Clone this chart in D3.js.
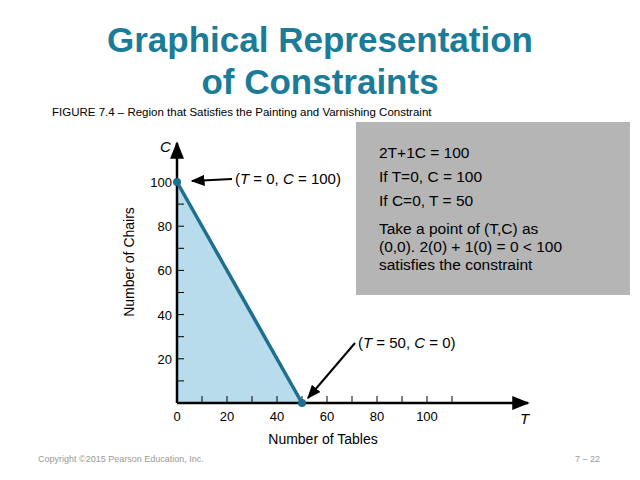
<!doctype html>
<html>
<head>
<meta charset="utf-8">
<script src="https://cdnjs.cloudflare.com/ajax/libs/d3/7.8.5/d3.min.js"></script>
<style>
  body { margin: 0; background: #fff; }
  svg { font-family: Arial, "Liberation Sans", sans-serif; display: block; }
</style>
</head>
<body>
<div id="chart"></div>
<script>
// constraint 2T + 1C <= 100
const boundaryT = [0, 50];
const boundaryC = [100, 0];
const tickLabelsX = [0, 20, 40, 60, 80, 100];
const tickLabelsY = [20, 40, 60, 80, 100];
const minorX = d3.range(10, 120, 10);
const minorY = d3.range(10, 100, 10);
const noteLines = ["2T+1C = 100", "If T=0, C = 100", "If C=0, T = 50",
  "Take a point of (T,C) as", "(0,0). 2(0) + 1(0) = 0 < 100", "satisfies the constraint"];

const svg = d3.select('#chart').append('svg').attr('width', 640).attr('height', 480);
const x = d3.scaleLinear().domain([0, 100]).range([177, 427]);
const y = d3.scaleLinear().domain([0, 100]).range([403, 182]);
const teal = '#1f6f8f';

// title
svg.append('g').selectAll('text').data(['Graphical Representation', 'of Constraints']).join('text')
  .attr('x', 320).attr('y', (d, i) => 52 + i * 42).attr('text-anchor', 'middle')
  .attr('font-size', 35).attr('font-weight', 'bold').attr('fill', '#1a7c99').text(d => d);
svg.append('text').attr('x', 52).attr('y', 116).attr('font-size', 11.5)
  .text('FIGURE 7.4 \u2013 Region that Satisfies the Painting and Varnishing Constraint');

// grey note box
svg.append('rect').attr('x', 356).attr('y', 122).attr('width', 274).attr('height', 173).attr('fill', '#b5b5b5');
svg.append('g').selectAll('text').data(noteLines).join('text')
  .attr('x', 379).attr('y', (d, i) => [158, 182, 206, 234, 252, 270][i])
  .attr('font-size', 15.5).text(d => d);

// feasible region
const pts = boundaryT.map((t, i) => [x(t), y(boundaryC[i])]);
svg.append('path').attr('d', d3.line()([[x(0), y(0)], ...pts]) + 'Z').attr('fill', '#b8dcec');

// axes
svg.append('defs').append('marker').attr('id', 'ah').attr('viewBox', '0 0 10 10')
  .attr('refX', 9).attr('refY', 5).attr('markerWidth', 7).attr('markerHeight', 7)
  .attr('orient', 'auto-start-reverse').append('path').attr('d', 'M0,1 L10,5 L0,9 Z').attr('fill', '#000');
svg.append('line').attr('x1', x(0)).attr('y1', y(0)).attr('x2', 528).attr('y2', y(0))
  .attr('stroke', '#000').attr('stroke-width', 2.5).attr('marker-end', 'url(#ah)');
svg.append('line').attr('x1', x(0)).attr('y1', y(0)).attr('x2', x(0)).attr('y2', 143)
  .attr('stroke', '#000').attr('stroke-width', 2.5).attr('marker-end', 'url(#ah)');
svg.append('g').selectAll('line').data(minorX).join('line')
  .attr('x1', d => x(d)).attr('x2', d => x(d)).attr('y1', y(0)).attr('y2', y(0) - 7).attr('stroke', '#000');
svg.append('g').selectAll('line').data(minorY).join('line')
  .attr('y1', d => y(d)).attr('y2', d => y(d)).attr('x1', x(0)).attr('x2', x(0) + 7).attr('stroke', '#000');
svg.append('g').selectAll('text').data(tickLabelsX).join('text')
  .attr('x', d => x(d)).attr('y', 421).attr('text-anchor', 'middle').attr('font-size', 13).text(d => d);
svg.append('g').selectAll('text').data(tickLabelsY).join('text')
  .attr('x', 172).attr('y', d => y(d) + 5).attr('text-anchor', 'end').attr('font-size', 13).text(d => d);
svg.append('text').attr('x', 520).attr('y', 424).attr('font-size', 15).attr('font-style', 'italic').text('T');
svg.append('text').attr('x', 160).attr('y', 152).attr('font-size', 15).attr('font-style', 'italic').text('C');
svg.append('text').attr('x', 323).attr('y', 444).attr('text-anchor', 'middle').attr('font-size', 14).text('Number of Tables');
svg.append('text').attr('transform', 'translate(134,262) rotate(-90)').attr('text-anchor', 'middle')
  .attr('font-size', 14).text('Number of Chairs');

// constraint line
svg.append('path').attr('d', d3.line()(pts)).attr('stroke', teal).attr('stroke-width', 3.5).attr('fill', 'none');
svg.append('g').selectAll('circle').data(pts).join('circle')
  .attr('cx', d => d[0]).attr('cy', d => d[1]).attr('r', 4).attr('fill', teal);

// annotations
svg.append('line').attr('x1', 232).attr('y1', 179).attr('x2', 192).attr('y2', 181)
  .attr('stroke', '#000').attr('stroke-width', 2).attr('marker-end', 'url(#ah)');
svg.append('line').attr('x1', 355).attr('y1', 343).attr('x2', 308).attr('y2', 398)
  .attr('stroke', '#000').attr('stroke-width', 2).attr('marker-end', 'url(#ah)');
const ann = (tx, ty, tv, cv) => {
  const t = svg.append('text').attr('x', tx).attr('y', ty).attr('font-size', 15);
  t.append('tspan').text('(');
  t.append('tspan').attr('font-style', 'italic').text('T');
  t.append('tspan').text(' = ' + tv + ',  ');
  t.append('tspan').attr('font-style', 'italic').text('C');
  t.append('tspan').text(' = ' + cv + ')');
};
ann(235, 184, 0, 100);
ann(358, 348, 50, 0);

// footer
svg.append('text').attr('x', 38).attr('y', 462).attr('font-size', 9).attr('fill', '#999')
  .text('Copyright \u00a92015 Pearson Education, Inc.');
svg.append('text').attr('x', 600).attr('y', 462).attr('text-anchor', 'end').attr('font-size', 9).attr('fill', '#999').text('7 \u2013 22');
</script>
</body>
</html>
